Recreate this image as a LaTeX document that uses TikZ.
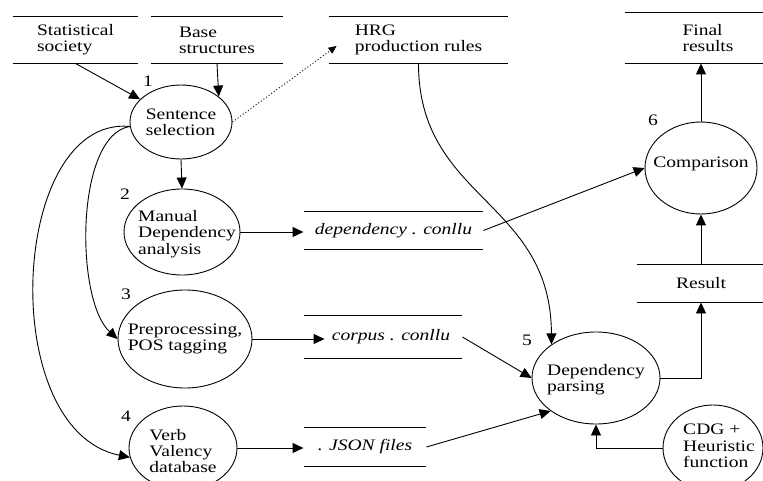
\documentclass[tikz,border=0pt]{standalone}
\usepackage{fontspec}
\setmainfont{Liberation Serif}[FakeStretch=1.22]
\usetikzlibrary{shapes.geometric,arrows.meta,calc}
\begin{document}
\begin{tikzpicture}[x=1pt,y=-1pt,line width=0.9pt,
  txt/.style={font=\fontsize{16}{16.3}\selectfont},
  proc/.style={ellipse,draw,inner sep=0pt},
  ptext/.style={txt,align=left,inner sep=0pt},
  store/.style={txt,rectangle,inner sep=0pt,align=left},
  ital/.style={store,font=\fontsize{16}{16.3}\selectfont\itshape},
  num/.style={txt,inner sep=0pt},
  arr/.style={-{Triangle[length=11pt,width=10pt]}},
  darr/.style={dash pattern=on 1pt off 2.2pt,-{Triangle[length=8pt,width=7pt]}}]
\useasboundingbox (0,0) rectangle (763,481);

% data stores
\node[store,minimum width=125pt,minimum height=46pt] (s1) at (75.5,40) {Statistical\\society};
\node[store,minimum width=132pt,minimum height=46pt] (s2) at (217,40) {Base\\structures};
\node[store,minimum width=179pt,minimum height=46pt] (s3) at (418.5,40) {HRG\\production rules};
\node[store,minimum width=166pt,minimum height=50pt] (s4) at (708,38) {Final\\results};
\node[store,minimum width=128pt,minimum height=37pt] (s5) at (701,283.5) {Result};
\node[ital,minimum width=179pt,minimum height=37pt] (d1) at (393.5,230.5) {dependency . conllu};
\node[ital,minimum width=158pt,minimum height=42pt] (d2) at (383,337) {\hspace{16pt}corpus . conllu};
\node[ital,minimum width=122pt,minimum height=38pt] (d3) at (365,447) {. JSON files};
\foreach \s in {s1,s2,s3,s4,s5,d1,d2,d3}{
  \draw (\s.north west) -- (\s.north east) (\s.south west) -- (\s.south east);
}

% processes
\node[proc,minimum width=102pt,minimum height=74pt] (p1) at (181,122) {};
\node[ptext] at (p1) {Sentence\\selection};
\node[proc,minimum width=116pt,minimum height=86pt] (p2) at (182,232) {};
\node[ptext,xshift=5pt,yshift=-2pt] at (p2) {Manual\\Dependency\\analysis};
\node[proc,minimum width=134pt,minimum height=98pt] (p3) at (185,339) {};
\node[ptext] at (p3) {Preprocessing,\\POS tagging};
\node[proc,minimum width=108pt,minimum height=84pt] (p4) at (183,448) {};
\node[ptext,yshift=-3pt] at (p4) {Verb\\Valency\\database};
\node[proc,minimum width=128pt,minimum height=92pt] (p5) at (596,378) {};
\node[ptext,yshift=-2pt] at (p5) {Dependency\\parsing};
\node[proc,minimum width=112pt,minimum height=92pt] (p6) at (701,168) {};
\node[ptext,yshift=4pt] at (p6) {Comparison};
\node[proc,minimum width=100pt,minimum height=86pt] (p7) at (713,448) {};
\node[ptext,xshift=6pt,yshift=2pt] at (p7) {CDG +\\Heuristic\\function};

% numbers
\node[num] (n1) at (148,81) {1};
\node[num] (n2) at (125,194) {2};
\node[num] (n3) at (126,294) {3};
\node[num] (n4) at (126,416) {4};
\node[num] (n5) at (527,340) {5};
\node[num] (n6) at (653,120) {6};

% connectors
\draw[arr] (s1.south) -- (p1);
\draw[arr] (s2.south) -- (p1.34);
\draw[darr] (p1.east) -- ([shift={(8,6)}]s3.west);
\draw[arr] (p1.south) -- (p2.north);
\draw[arr] (p1.185) .. controls (75,135) and (75,300) .. (p3.west);
\draw[arr] (p1.185) .. controls (10,115) and (-5,430) .. (p4.190);
\draw[arr] (p2.east) -- (p2.east -| d1.west);
\draw[arr] (p3.east) -- ($(p3.east -| d2.west)+(21,0)$);
\draw[arr] (p4.east) -- (p4.east -| d3.west);
\draw[arr] (d1.east) -- (p6.west);
\draw[arr] (d2.east) -- (p5.west);
\draw[arr] (d3.east) -- (p5.216);
\draw[arr] (s3.south) .. controls (418.5,200) and (551,200) .. (p5.143);
\draw[arr] (p5.east) -| (s5.south);
\draw[arr] (s5.north) -- (p6.south);
\draw[arr] (p6.north) -- (p6.north |- s4.south);
\draw[arr] (p7.west) -| (p5.south);
\end{tikzpicture}
\end{document}
